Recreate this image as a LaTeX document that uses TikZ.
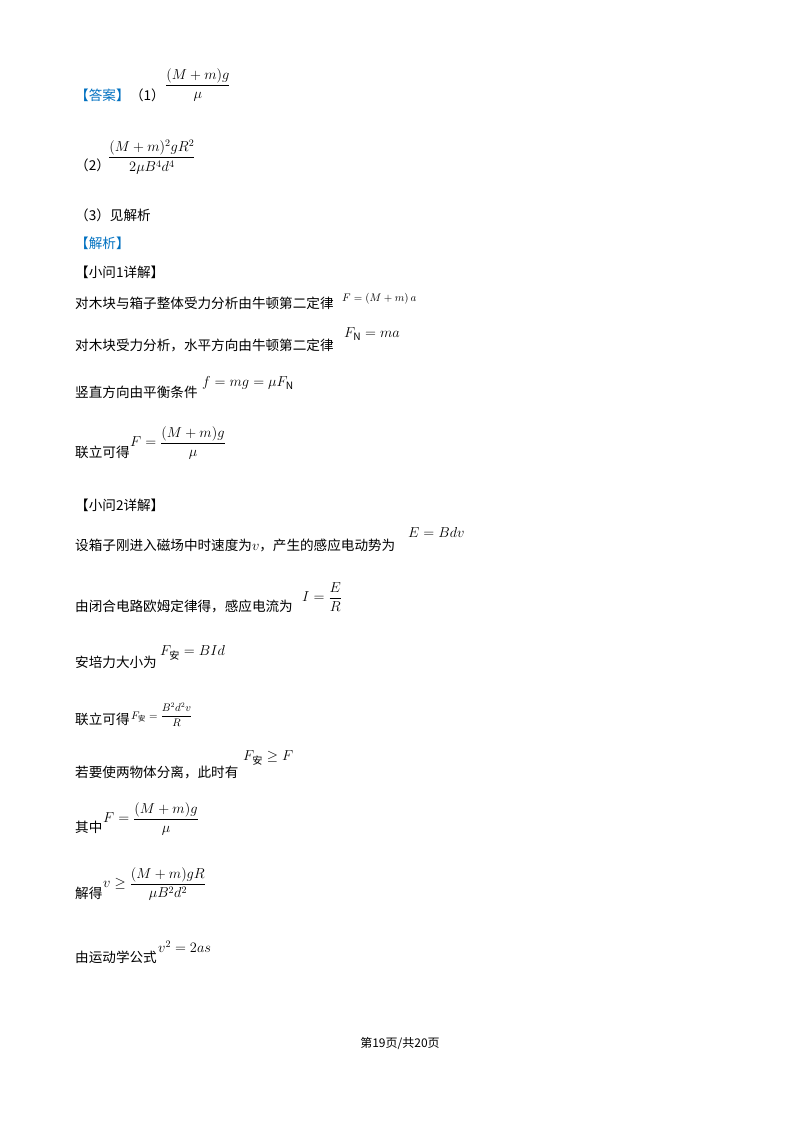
\documentclass[tikz,border=0pt]{standalone}
\usepackage{amsmath}
\usepackage{fontspec}
\setmainfont{Noto Sans CJK SC}
\definecolor{ansblue}{RGB}{0,112,192}
\begin{document}
\begin{tikzpicture}[x=1pt,y=-1pt,
  t/.style={anchor=west,inner sep=0pt,font=\fontsize{13.6}{15}\selectfont},
  m/.style={anchor=west,inner sep=0pt,font=\fontsize{14.5}{16}\selectfont},
  s/.style={anchor=west,inner sep=0pt,font=\fontsize{10.5}{12}\selectfont}]
\useasboundingbox (0,0) rectangle (800,1132);
\node[t,text=ansblue] (a1) at (75,95) {【答案】};
\node[t] (a1b) at (a1.east) {（1）};
\node[m] (a1f) at (165,85) {$\dfrac{(M+m)g}{\mu}$};
\node[t] (a2) at (75,165) {（2）};
\node[m] (a2f) at (108,157) {$\dfrac{(M+m)^2gR^2}{2\mu B^4d^4}$};
\node[t] (a3) at (75,215) {（3）见解析};
\node[t,text=ansblue] (jx) at (75,243) {【解析】};
\node[t] (q1) at (75,272) {【小问1详解】};
\node[t] (l1) at (75,303) {对木块与箱子整体受力分析由牛顿第二定律};
\node[s] (l1m) at (342,299) {$F=(M+m)\,a$};
\node[t] (l2) at (75,345) {对木块受力分析，水平方向由牛顿第二定律};
\node[m] (l2m) at (344,334) {$F_{\mathrm N}=ma$};
\node[t] (l3) at (75,392) {竖直方向由平衡条件};
\node[m] (l3m) at (202,383) {$f=mg=\mu F_{\mathrm N}$};
\node[t] (l4) at (75,452) {联立可得};
\node[m] (l4m) at (130,443) {$F=\dfrac{(M+m)g}{\mu}$};
\node[t] (q2) at (75,505) {【小问2详解】};
\node[t] (l5) at (75,545) {设箱子刚进入磁场中时速度为$v$，产生的感应电动势为};
\node[m] (l5m) at (408,532) {$E=Bdv$};
\node[t] (l6) at (75,606) {由闭合电路欧姆定律得，感应电流为};
\node[m] (l6m) at (302,597) {$I=\dfrac{E}{R}$};
\node[t] (l7) at (75,662) {安培力大小为};
\node[m] (l7m) at (160,653) {$F_{\text{安}}=BId$};
\node[t] (l8) at (75,719) {联立可得};
\node[s] (l8m) at (131,715) {$F_{\text{安}}=\dfrac{B^2d^2v}{R}$};
\node[t] (l9) at (75,772) {若要使两物体分离，此时有};
\node[m] (l9m) at (243,758) {$F_{\text{安}}\geq F$};
\node[t] (l10) at (75,827) {其中};
\node[m] (l10m) at (103,819) {$F=\dfrac{(M+m)g}{\mu}$};
\node[t] (l11) at (75,893) {解得};
\node[m] (l11m) at (103,884) {$v\geq\dfrac{(M+m)gR}{\mu B^2d^2}$};
\node[t] (l12) at (75,957) {由运动学公式};
\node[m] (l12m) at (158,947) {$v^2=2as$};
\node[inner sep=0pt,font=\fontsize{12}{13}\selectfont] (pg) at (400,1043) {第19页/共20页};
\end{tikzpicture}
\end{document}
